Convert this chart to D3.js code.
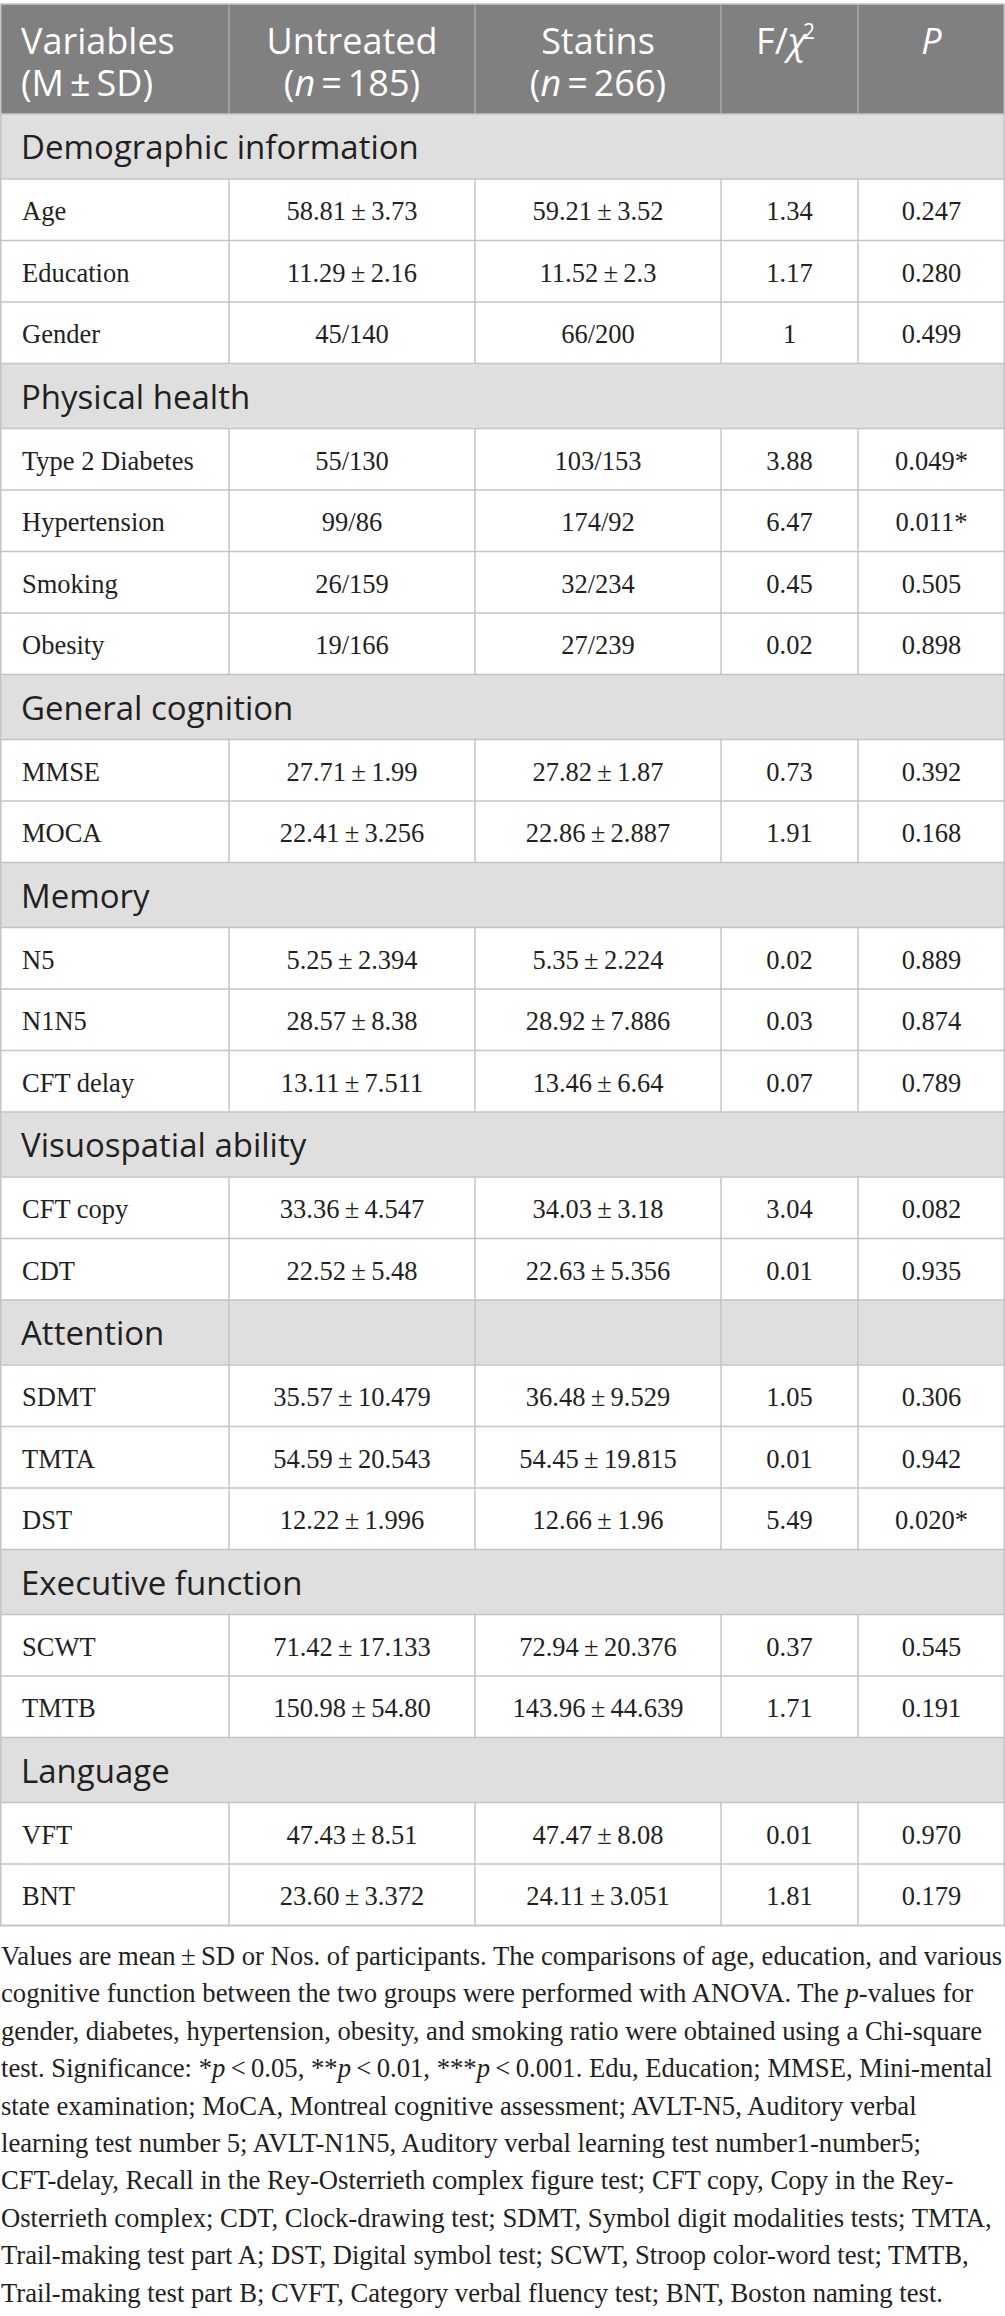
<!DOCTYPE html>
<html>
<head>
<meta charset="utf-8">
<script src="https://cdn.jsdelivr.net/npm/d3@7"></script>
<style>
  body { margin: 0; background: #fff; }
  svg { display: block; }
</style>
</head>
<body>
<div class="chart"></div>
<script>
// table content
const sections = ["Demographic information", "Physical health", "General cognition", "Memory",
    "Visuospatial ability", "Attention", "Executive function", "Language"];
const sectionSizes = [3, 4, 2, 3, 2, 3, 2, 2];
const variables = ["Age", "Education", "Gender", "Type 2 Diabetes", "Hypertension", "Smoking", "Obesity",
    "MMSE", "MOCA", "N5", "N1N5", "CFT delay", "CFT copy", "CDT", "SDMT", "TMTA", "DST",
    "SCWT", "TMTB", "VFT", "BNT"];
const untreated = ["58.81±3.73", "11.29±2.16", "45/140", "55/130", "99/86", "26/159", "19/166",
    "27.71±1.99", "22.41±3.256", "5.25±2.394", "28.57±8.38", "13.11±7.511", "33.36±4.547", "22.52±5.48",
    "35.57±10.479", "54.59±20.543", "12.22±1.996", "71.42±17.133", "150.98±54.80", "47.43±8.51", "23.60±3.372"];
const statins = ["59.21±3.52", "11.52±2.3", "66/200", "103/153", "174/92", "32/234", "27/239",
    "27.82±1.87", "22.86±2.887", "5.35±2.224", "28.92±7.886", "13.46±6.64", "34.03±3.18", "22.63±5.356",
    "36.48±9.529", "54.45±19.815", "12.66±1.96", "72.94±20.376", "143.96±44.639", "47.47±8.08", "24.11±3.051"];
const fStats = [1.34, 1.17, 1, 3.88, 6.47, 0.45, 0.02, 0.73, 1.91, 0.02, 0.03, 0.07, 3.04, 0.01,
    1.05, 0.01, 5.49, 0.37, 1.71, 0.01, 1.81];
const pValues = [0.247, 0.280, 0.499, 0.049, 0.011, 0.505, 0.898, 0.392, 0.168, 0.889, 0.874, 0.789,
    0.082, 0.935, 0.306, 0.942, 0.020, 0.545, 0.191, 0.970, 0.179];
const borderedSections = ["Attention"];

const footnote = [
    [["Values are mean\u2009±\u2009SD or Nos. of participants. The comparisons of age, education, and various"]],
    [["cognitive function between the two groups were performed with ANOVA. The "], ["p", 1], ["-values for"]],
    [["gender, diabetes, hypertension, obesity, and smoking ratio were obtained using a Chi-square"]],
    [["test. Significance: *"], ["p", 1], ["\u2009<\u20090.05, **"], ["p", 1], ["\u2009<\u20090.01, ***"], ["p", 1],
        ["\u2009<\u20090.001. Edu, Education; MMSE, Mini-mental"]],
    [["state examination; MoCA, Montreal cognitive assessment; AVLT-N5, Auditory verbal"]],
    [["learning test number 5; AVLT-N1N5, Auditory verbal learning test number1-number5;"]],
    [["CFT-delay, Recall in the Rey-Osterrieth complex figure test; CFT copy, Copy in the Rey-"]],
    [["Osterrieth complex; CDT, Clock-drawing test; SDMT, Symbol digit modalities tests; TMTA,"]],
    [["Trail-making test part A; DST, Digital symbol test; SCWT, Stroop color-word test; TMTB,"]],
    [["Trail-making test part B; CVFT, Category verbal fluency test; BNT, Boston naming test."]]
];

const w = 1005;
const h = 2316;
const sans = "'Open Sans', 'Noto Sans', sans-serif";
const serif = "'Liberation Serif', 'DejaVu Serif', serif";
const ink = "#231f20";
const lineColor = "#c4c4c4";

const cols = ["variable", "untreated", "statins", "f", "p"];
const colX = d3.scaleOrdinal().domain(cols).range([0, 229, 475, 721, 858]);
const colRight = d3.scaleOrdinal().domain(cols).range([229, 475, 721, 858, w]);
const colMid = c => (colX(c) + colRight(c)) / 2;

const headerTop = 4;
const headerBottom = 114;
const sectionH = 65;
const rowH = 61.5;

// build row list: section rows followed by their variables
const rows = [];
let vi = 0;
sections.forEach((s, si) => {
    rows.push({type: "section", label: s, bordered: borderedSections.includes(s)});
    for (let k = 0; k < sectionSizes[si]; k++) {
        rows.push({
            type: "data", label: variables[vi], untreated: untreated[vi], statins: statins[vi],
            f: fStats[vi], p: pValues[vi]
        });
        vi++;
    }
});
const heights = rows.map(r => r.type === "section" ? sectionH : rowH);
const tops = [headerBottom, ...d3.cumsum(heights)].map((v, i) => i === 0 ? v : headerBottom + v);
rows.forEach((r, i) => { r.y0 = tops[i]; r.y1 = tops[i] + heights[i]; });
const tableBottom = rows[rows.length - 1].y1;

const svg = d3.select(".chart").append("svg").attr("width", w).attr("height", h);

// header
svg.append("rect").attr("x", 0).attr("y", headerTop).attr("width", w).attr("height", headerBottom - headerTop)
    .attr("fill", "#7f807f");
svg.append("g").selectAll("line").data(cols.slice(1)).join("line")
    .attr("x1", d => colX(d)).attr("x2", d => colX(d))
    .attr("y1", headerTop).attr("y2", headerBottom)
    .attr("stroke", "#a9a9a9").attr("stroke-width", 1.5);

const head = svg.append("g").attr("font-family", sans).attr("font-size", 36).attr("fill", "#fff");
const l1 = 54, gap = 42;

// two-line header cells share one text element
const twoLine = (x, anchor, first, second) => {
    const t = head.append("text").attr("x", x).attr("y", l1).attr("text-anchor", anchor);
    t.append("tspan").attr("x", x).text(first);
    const sec = t.append("tspan").attr("x", x).attr("dy", gap);
    second.forEach(([s, it]) => sec.append("tspan").attr("font-style", it ? "italic" : null).text(s));
};
twoLine(21, "start", "Variables", [["(M\u2009±\u2009SD)"]]);
twoLine(colMid("untreated"), "middle", "Untreated", [["("], ["n", 1], ["\u2009=\u2009185)"]]);
twoLine(colMid("statins"), "middle", "Statins", [["("], ["n", 1], ["\u2009=\u2009266)"]]);

const fh = head.append("text").attr("x", colMid("f") - 4).attr("y", l1).attr("text-anchor", "middle");
fh.append("tspan").text("F/");
fh.append("tspan").attr("font-style", "italic").text("χ");
fh.append("tspan").attr("font-size", 21).attr("dy", -15).attr("dx", -3).text("2");
head.append("text").attr("x", colMid("p")).attr("y", l1).attr("text-anchor", "middle")
    .attr("font-style", "italic").text("P");

// row backgrounds
svg.append("g").selectAll("rect").data(rows).join("rect")
    .attr("x", 0).attr("width", w)
    .attr("y", d => d.y0).attr("height", d => d.y1 - d.y0)
    .attr("fill", d => d.type === "section" ? "#e0dfe0" : "#fff");

// horizontal rules
svg.append("g").selectAll("line").data([headerBottom, ...rows.map(r => r.y1)]).join("line")
    .attr("x1", 0).attr("x2", w).attr("y1", d => d).attr("y2", d => d)
    .attr("stroke", lineColor).attr("stroke-width", 1.5);

// vertical rules per row (data rows and bordered section rows)
const vRows = rows.filter(r => r.type === "data" || r.bordered);
const vSegs = vRows.flatMap(r => cols.slice(1).map(c => ({x: colX(c), y0: r.y0, y1: r.y1})));
svg.append("g").selectAll("line").data(vSegs).join("line")
    .attr("x1", d => d.x).attr("x2", d => d.x).attr("y1", d => d.y0).attr("y2", d => d.y1)
    .attr("stroke", lineColor).attr("stroke-width", 1.5);

// outer frame
svg.append("rect").attr("x", 0.75).attr("y", headerTop).attr("width", w - 1.5)
    .attr("height", tableBottom - headerTop)
    .attr("fill", "none").attr("stroke", lineColor).attr("stroke-width", 1.5);

// section labels
svg.append("g").selectAll("text").data(rows.filter(r => r.type === "section")).join("text")
    .attr("x", 21).attr("y", d => d.y0 + 45)
    .attr("font-family", sans).attr("font-size", 33).attr("fill", ink)
    .text(d => d.label);

// data cells
const pm = s => s.replace("±", "\u2009±\u2009");
const pFmt = d3.format(".3f");
const dataRows = rows.filter(r => r.type === "data");
const cells = svg.append("g").attr("font-family", serif).attr("font-size", 26.5).attr("fill", ink);
cells.selectAll("text.var").data(dataRows).join("text").attr("class", "var")
    .attr("x", 22).attr("y", d => d.y0 + 41).text(d => d.label);
cells.selectAll("text.unt").data(dataRows).join("text").attr("class", "unt")
    .attr("x", colMid("untreated")).attr("y", d => d.y0 + 41).attr("text-anchor", "middle")
    .text(d => pm(d.untreated));
cells.selectAll("text.sta").data(dataRows).join("text").attr("class", "sta")
    .attr("x", colMid("statins")).attr("y", d => d.y0 + 41).attr("text-anchor", "middle")
    .text(d => pm(d.statins));
cells.selectAll("text.f").data(dataRows).join("text").attr("class", "f")
    .attr("x", colMid("f")).attr("y", d => d.y0 + 41).attr("text-anchor", "middle")
    .text(d => String(d.f));
cells.selectAll("text.p").data(dataRows).join("text").attr("class", "p")
    .attr("x", colMid("p")).attr("y", d => d.y0 + 41).attr("text-anchor", "middle")
    .text(d => pFmt(d.p) + (d.p < 0.05 ? "*" : ""));

// footnote
const note = svg.append("g").attr("font-family", serif).attr("font-size", 24).attr("fill", ink);
const noteLines = note.selectAll("text").data(footnote).join("text")
    .attr("x", 1).attr("y", (d, i) => 1965 + i * 37.4);
noteLines.selectAll("tspan").data(d => d).join("tspan")
    .attr("font-style", d => d[1] ? "italic" : null)
    .text(d => d[0]);

// fit the first line to the measured width of the reference
const firstLen = noteLines.node().getComputedTextLength();
note.attr("font-size", 24 * 1002 / firstLen);
</script>
</body>
</html>
